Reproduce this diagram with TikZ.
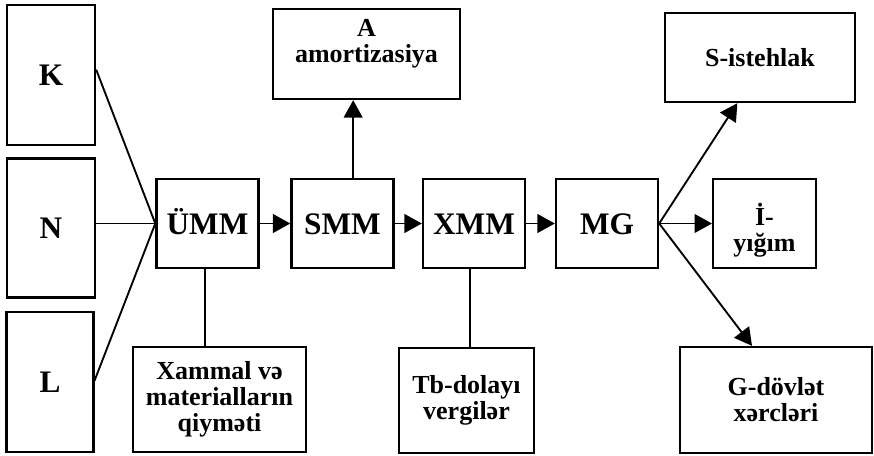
\documentclass[tikz,border=0pt]{standalone}
\usepackage{fontspec}
\setmainfont{Liberation Serif}
\usetikzlibrary{arrows.meta}

\begin{document}
\begin{tikzpicture}[x=0.75pt, y=-0.75pt]
    \tikzset{>={Triangle[length=13pt,width=14pt]}}
    \tikzset{box/.style={draw, line width=1.8pt, align=center, inner sep=0pt,
        font=\fontsize{19.5}{19.5}\selectfont\bfseries}}
    \tikzset{big/.style={box, font=\fontsize{23.5}{23.5}\selectfont\bfseries}}
    \tikzset{mid/.style={big, minimum width=76.5pt, minimum height=66.75pt,
        text height=22pt, text depth=4.8pt}}
    \tikzset{line/.style={line width=1.4pt}}
    \useasboundingbox (0,0) rectangle (874,456);
    % factors
    \node[big, minimum width=66pt, minimum height=105pt] (K) at (51,75) {K};
    \node[big, minimum width=66pt, minimum height=104pt] (N) at (51,228) {N};
    \node[big, minimum width=65pt, minimum height=105pt] (L) at (50,382) {L};
    % main chain
    \node[mid] (UMM) at (207.5,223.5) {ÜMM};
    \node[mid] (SMM) at (342.5,223.5) {SMM};
    \node[mid] (XMM) at (474,223.5) {XMM};
    \node[mid] (MG) at (607,223.5) {MG};
    \node[box, minimum width=77pt, text height=54pt, text depth=12.75pt] (I) at (764.5,223.5) {İ-\\yığım};
    % side boxes
    \node[box, minimum width=140.25pt, text height=40.5pt, text depth=27pt] (A) at (366.5,54) {A\\amortizasiya};
    \node[box, minimum width=142.5pt, minimum height=66.75pt] (S) at (760,57.5) {S-istehlak};
    \node[box, minimum width=144pt, minimum height=79.5pt] (G) at (776,400) {G-dövlət\\xərcləri};
    \node[box, minimum width=129.75pt, minimum height=78.75pt] (X) at (219.5,399.5) {Xammal və\\materialların\\qiymәti};
    \node[box, minimum width=101.25pt, minimum height=78.75pt] (Tb) at (466.5,400.5) {Tb-dolayı\\vergilər};
    % connectors
    \draw[line] ([yshift=4pt]K.east) -- (UMM.west);
    \draw[line] (N.east |- UMM.west) -- (UMM.west);
    \draw[line] ([yshift=1pt]L.east) -- (UMM.west);
    \draw[line, ->] (UMM) -- (SMM);
    \draw[line, ->] (SMM) -- (XMM);
    \draw[line, ->] (XMM) -- (MG);
    \draw[line, ->] ([xshift=8pt]SMM.north) -- ([xshift=8pt]SMM.north |- A.south);
    \draw[line] ([xshift=-2pt]UMM.south) -- ([xshift=-2pt]UMM.south |- X.north);
    \draw[line] ([xshift=-3pt]XMM.south) -- ([xshift=-3pt]XMM.south |- Tb.north);
    \draw[line, ->] (MG.east) -- ([xshift=-17pt]S.south);
    \draw[line, ->] (MG.east) -- (I.west);
    \draw[line, ->] (MG.east) -- ([xshift=-18pt]G.north);
\end{tikzpicture}
\end{document}
